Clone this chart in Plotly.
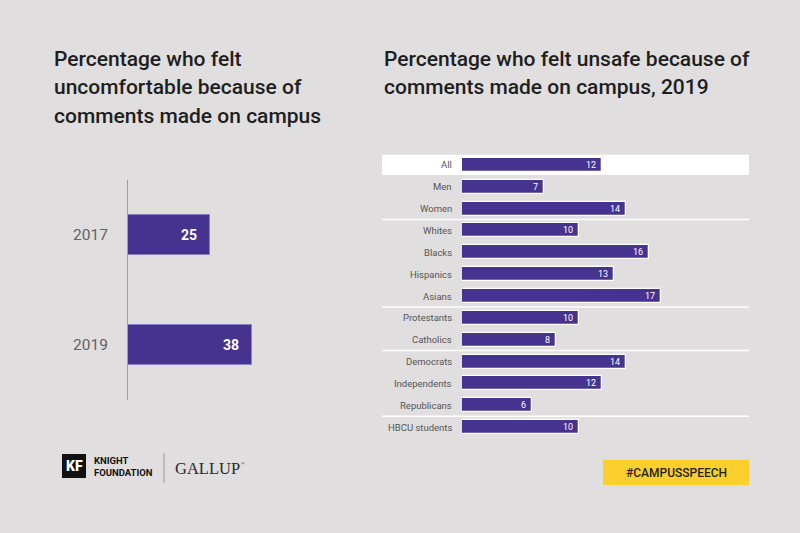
import plotly.graph_objects as go

# ---- data ----
years = ["2017", "2019"]
uncomfortable = [25, 38]

groups = ["All", "Men", "Women", "Whites", "Blacks", "Hispanics", "Asians",
          "Protestants", "Catholics", "Democrats", "Independents", "Republicans",
          "HBCU students"]
unsafe = [12, 7, 14, 10, 16, 13, 17, 10, 8, 14, 12, 6, 10]
separators_after = [2, 6, 8, 11]  # index of last row before a separator line

title_left = ["Percentage who felt", "uncomfortable because of", "comments made on campus"]
title_right = ["Percentage who felt unsafe because of", "comments made on campus, 2019"]

# ---- style ----
W, H = 800, 533
BG = "#e0dedf"
PURPLE = "#46338f"
FONT = "Roboto"


def px(x):
    return x / W


def py(y):
    return 1 - y / H


fig = go.Figure()

# left chart
fig.add_trace(go.Bar(
    x=uncomfortable, y=years, orientation="h", xaxis="x", yaxis="y",
    marker=dict(color=PURPLE, line=dict(color="#8d80c9", width=1)),
    width=0.364, hoverinfo="skip", showlegend=False,
))

# right chart
fig.add_trace(go.Bar(
    x=unsafe, y=groups, orientation="h", xaxis="x2", yaxis="y2",
    marker=dict(color=PURPLE, line=dict(color="#ffffff", width=1.3)),
    width=0.64, hoverinfo="skip", showlegend=False,
))

annotations = []
shapes = []

# titles
for i, t in enumerate(title_left):
    annotations.append(dict(text=t, xref="paper", yref="paper", x=px(52), y=py(59 + 28.5 * i),
                            xanchor="left", yanchor="middle", showarrow=False,
                            font=dict(family=FONT, size=21, color="#1e1e1e", weight=500)))
for i, t in enumerate(title_right):
    annotations.append(dict(text=t, xref="paper", yref="paper", x=px(382), y=py(59 + 28.5 * i),
                            xanchor="left", yanchor="middle", showarrow=False,
                            font=dict(family=FONT, size=21, color="#1e1e1e", weight=500)))

# left labels & values
for i, (yr, v) in enumerate(zip(years, uncomfortable)):
    annotations.append(dict(text=yr, xref="paper", yref="y", x=px(110), y=i,
                            xanchor="right", yanchor="middle", showarrow=False,
                            font=dict(family=FONT, size=15.5, color="#626262", weight=400)))
    annotations.append(dict(text=str(v), xref="x", yref="y", x=v, y=i, xshift=-11,
                            xanchor="right", yanchor="middle", showarrow=False,
                            font=dict(family=FONT, size=14, color="#ffffff", weight=700)))

# right labels & values
for i, (g, v) in enumerate(zip(groups, unsafe)):
    annotations.append(dict(text=g, xref="paper", yref="y2", x=px(454), y=i,
                            xanchor="right", yanchor="middle", showarrow=False,
                            font=dict(family=FONT, size=9.5, color="#555555")))
    annotations.append(dict(text=str(v), xref="x2", yref="y2", x=v, y=i, xshift=-4,
                            xanchor="right", yanchor="middle", showarrow=False,
                            font=dict(family=FONT, size=9, color="#ffffff")))

# highlight band for "All"
shapes.append(dict(type="rect", xref="paper", yref="y2", x0=px(382), x1=px(749),
                   y0=-0.46, y1=0.46, fillcolor="#ffffff", line=dict(width=0), layer="below"))
# separators
for idx in separators_after:
    shapes.append(dict(type="line", xref="paper", yref="y2", x0=px(382), x1=px(749),
                       y0=idx + 0.5, y1=idx + 0.5, line=dict(color="#ffffff", width=1.5),
                       layer="below"))

# footer: Knight Foundation logo
shapes.append(dict(type="rect", xref="paper", yref="paper", x0=px(62), x1=px(86),
                   y0=py(478), y1=py(454), fillcolor="#111111", line=dict(width=0)))
annotations.append(dict(text="KF", xref="paper", yref="paper", x=px(74), y=py(466),
                        xanchor="center", yanchor="middle", showarrow=False,
                        font=dict(family=FONT, size=14, color="#ffffff", weight=900)))
annotations.append(dict(text="KNIGHT", xref="paper", yref="paper", x=px(92), y=py(460.5),
                        xanchor="left", yanchor="middle", showarrow=False,
                        font=dict(family=FONT, size=9.5, color="#111111", weight=700)))
annotations.append(dict(text="FOUNDATION", xref="paper", yref="paper", x=px(92), y=py(472),
                        xanchor="left", yanchor="middle", showarrow=False,
                        font=dict(family=FONT, size=9.5, color="#111111", weight=700)))
shapes.append(dict(type="line", xref="paper", yref="paper", x0=px(164), x1=px(164),
                   y0=py(483), y1=py(453), line=dict(color="#9a9a9a", width=1)))
annotations.append(dict(text="GALLUP", xref="paper", yref="paper", x=px(173), y=py(468),
                        xanchor="left", yanchor="middle", showarrow=False,
                        font=dict(family="Liberation Serif", size=16.5, color="#2a2a2a")))
annotations.append(dict(text="®", xref="paper", yref="paper", x=px(239), y=py(463),
                        xanchor="left", yanchor="middle", showarrow=False,
                        font=dict(family="Liberation Serif", size=5, color="#2a2a2a")))

# hashtag box
shapes.append(dict(type="rect", xref="paper", yref="paper", x0=px(603), x1=px(749),
                   y0=py(485), y1=py(460), fillcolor="#fbd02c", line=dict(width=0)))
annotations.append(dict(text="#CAMPUSSPEECH", xref="paper", yref="paper", x=px(676), y=py(472.5),
                        xanchor="center", yanchor="middle", showarrow=False,
                        font=dict(family=FONT, size=12, color="#222222", weight=500)))

fig.update_layout(
    width=W, height=H, margin=dict(l=0, r=0, t=0, b=0),
    paper_bgcolor=BG, plot_bgcolor="rgba(0,0,0,0)",
    font=dict(family=FONT),
    bargap=0,
    xaxis=dict(domain=[px(128), px(330)], range=[0, 202 / 3.27], visible=False, fixedrange=True),
    yaxis=dict(domain=[py(400), py(180)], type="category", range=[1.5, -0.5],
               showline=True, linecolor="#a0a0a0", linewidth=1, showticklabels=False,
               showgrid=False, zeroline=False, ticks="", fixedrange=True),
    xaxis2=dict(domain=[px(462), px(749)], range=[0, 287 / 11.7], visible=False,
                anchor="y2", fixedrange=True),
    yaxis2=dict(domain=[py(438), py(154)], type="category", range=[12.5, -0.5],
                showticklabels=False, showgrid=False, zeroline=False, showline=False,
                anchor="x2", fixedrange=True),
    annotations=annotations,
    shapes=shapes,
)

fig.write_html(
    "out.html",
    config={"displayModeBar": False},
    post_script="document.body.style.margin='0';document.body.style.padding='0';"
                "document.body.style.background='" + BG + "';",
)
